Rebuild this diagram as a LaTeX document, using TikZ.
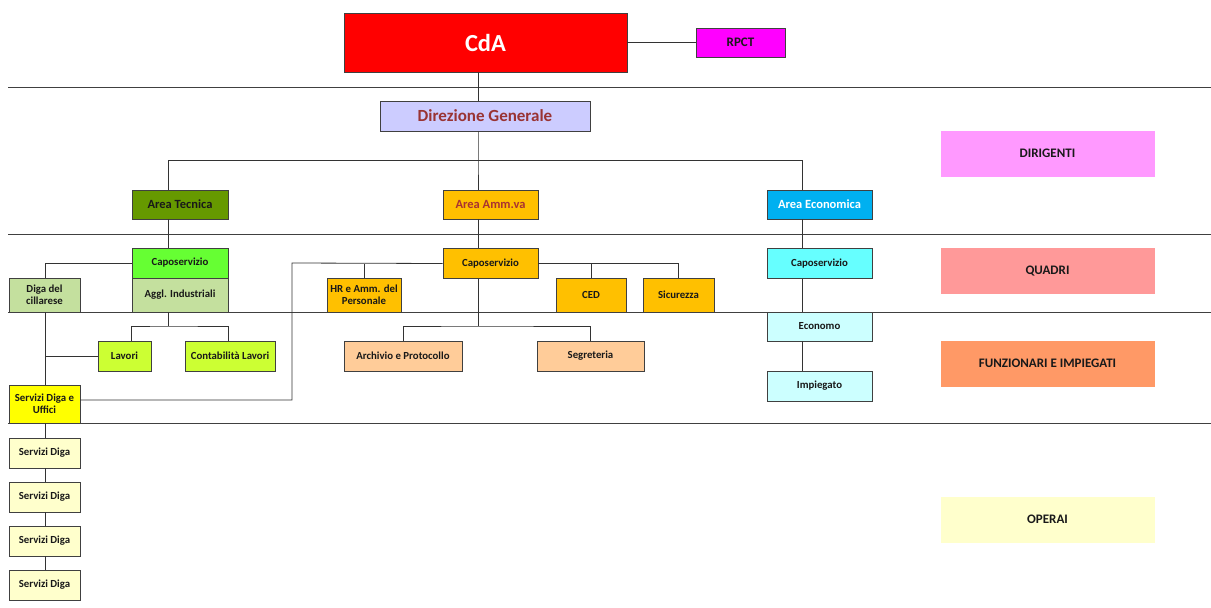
\documentclass[tikz,border=0pt]{standalone}
\usepackage{fontspec}
\setmainfont{Carlito}

\definecolor{cdared}{HTML}{FF0000}
\definecolor{rpctmag}{HTML}{FF00FF}
\definecolor{dglav}{HTML}{CCCCFF}
\definecolor{dgtext}{HTML}{993333}
\definecolor{tecdark}{HTML}{669900}
\definecolor{tecbright}{HTML}{66FF33}
\definecolor{teclight}{HTML}{C4E09E}
\definecolor{teclime}{HTML}{CCFF33}
\definecolor{ammgold}{HTML}{FFC000}
\definecolor{ammtext}{HTML}{A83232}
\definecolor{ammpeach}{HTML}{FFCC99}
\definecolor{ecoblue}{HTML}{00B0F0}
\definecolor{ecocyan}{HTML}{66FFFF}
\definecolor{ecopale}{HTML}{CCFFFF}
\definecolor{digayel}{HTML}{FFFF00}
\definecolor{digapale}{HTML}{FFFFCC}
\definecolor{legdir}{HTML}{FF99FF}
\definecolor{legqua}{HTML}{FF9999}
\definecolor{legfun}{HTML}{FF9966}
\definecolor{legope}{HTML}{FFFFCC}

\begin{document}
\begin{tikzpicture}[
    x=1pt, y=-1pt,
    box/.style={draw=black!75, line width=0.8pt, align=center, inner sep=1pt,
        text=black!90, font=\bfseries\fontsize{10.8}{12}\selectfont},
    sz/.style 2 args={minimum width=#1pt, minimum height=#2pt},
    areabox/.style={box, font=\bfseries\fontsize{12.5}{14}\selectfont},
    tier/.style={fill=#1, draw=#1, inner sep=0pt, minimum width=213pt, minimum height=45pt,
        text=black!90, font=\bfseries\fontsize{13}{15}\selectfont},
    wire/.style={draw=black!80, line width=0.8pt},
    rule/.style={draw=black!75, line width=0.8pt}
]
    \useasboundingbox (0,0) rectangle (1211,608);

    % top
    \node[box, sz={283}{59}, fill=cdared, text=white, font=\bfseries\fontsize{24.5}{27}\selectfont] (CdA) at (485.5,42.5) {CdA};
    \node[box, sz={89}{29}, fill=rpctmag, font=\bfseries\fontsize{13}{15}\selectfont] (RPCT) at (740.5,42.5) {RPCT};
    \node[box, sz={210}{30}, fill=dglav, text=dgtext, font=\bfseries\fontsize{17}{19}\selectfont] (DG) at (485,116) {Direzione Generale};

    % areas
    \node[areabox, sz={96}{29}, fill=tecdark] (AT) at (180,204.5) {Area Tecnica};
    \node[areabox, sz={95}{29}, fill=ammgold, text=ammtext] (AA) at (490.5,204.5) {Area Amm.va};
    \node[areabox, sz={105}{29}, fill=ecoblue, text=white] (AE) at (819.5,204.5) {Area Economica};

    % area tecnica
    \node[box, sz={96}{30}, fill=tecbright] (CT) at (180,263) {Caposervizio};
    \node[box, sz={96}{34}, fill=teclight] (Aggl) at (180,295) {Aggl. Industriali};
    \node[box, sz={71}{34}, fill=teclight] (Diga) at (44.5,295) {Diga del\\cillarese};
    \node[box, sz={53}{30}, fill=teclime] (Lavori) at (124.5,356) {Lavori};
    \node[box, sz={90}{30}, fill=teclime] (Contab) at (230,356) {Contabilità Lavori};
    \node[box, sz={71}{38}, fill=digayel] (SDU) at (44.5,404) {Servizi Diga e\\Uffici};
    \node[box, sz={71}{30}, fill=digapale] (SD1) at (44.5,453) {Servizi Diga};
    \node[box, sz={71}{30}, fill=digapale] (SD2) at (44.5,497) {Servizi Diga};
    \node[box, sz={71}{30}, fill=digapale] (SD3) at (44.5,541) {Servizi Diga};
    \node[box, sz={71}{30}, fill=digapale] (SD4) at (44.5,585) {Servizi Diga};

    % area amm.va
    \node[box, sz={95}{30}, fill=ammgold] (CA) at (490.5,263.5) {Caposervizio};
    \node[box, sz={74}{34}, fill=ammgold] (HR) at (364,295) {HR e Amm. del\\Personale};
    \node[box, sz={70}{34}, fill=ammgold] (CED) at (591,295) {CED};
    \node[box, sz={71}{34}, fill=ammgold] (Sic) at (678.5,295) {Sicurezza};
    \node[box, sz={118}{30}, fill=ammpeach] (Arch) at (403,356) {Archivio e Protocollo};
    \node[box, sz={107}{30}, fill=ammpeach] (Segr) at (590.5,356) {Segreteria};

    % area economica
    \node[box, sz={105}{30}, fill=ecocyan] (CE) at (819.5,263.5) {Caposervizio};
    \node[box, sz={105}{29}, fill=ecopale] (Eco) at (819.5,326.5) {Economo};
    \node[box, sz={105}{30}, fill=ecopale] (Imp) at (819.5,386) {Impiegato};

    % legend
    \node[tier=legdir] (Dir) at (1047.5,153.5) {DIRIGENTI};
    \node[tier=legqua] (Qua) at (1047.5,271) {QUADRI};
    \node[tier=legfun] (Fun) at (1047.5,363.5) {FUNZIONARI E IMPIEGATI};
    \node[tier=legope] (Ope) at (1047.5,519.5) {OPERAI};

    % level rules
    \foreach \y in {87,234,312,423}
        \draw[rule] (8,\y) -- (1211,\y);

    % trunk points
    \coordinate (colT) at (168,160);
    \coordinate (colA) at (478,160);
    \coordinate (colE) at (802,160);
    \coordinate (colD) at (45,263);
    \coordinate (subT) at (168,326);
    \coordinate (subA) at (478,326);
    \coordinate (link) at (292,263);

    % connectors
    \draw[wire] (CdA.east) -- (RPCT.west);
    \draw[wire] (CdA.south -| colA) -- (DG.north -| colA);
    \draw[wire] (DG.south -| colA) -- (colA) -- (AA.north -| colA);
    \draw[wire] (AT.north -| colT) -- (colT) -- (colE) -- (AE.north -| colE);

    \draw[wire] (AT.south -| colT) -- (CT.north -| colT);
    \draw[wire] (CT.west) -- (colD) -- (Diga.north -| colD);
    \draw[wire] (Diga.south -| colD) -- (SDU.north -| colD);
    \draw[wire] (Lavori.west) -- (Lavori.west -| colD);
    \draw[wire] (Aggl.south -| colT) -- (subT);
    \draw[wire] (Lavori.north -| Aggl.west) |- (subT) -| (Contab.north -| Aggl.east);
    \foreach \a/\b in {SDU/SD1, SD1/SD2, SD2/SD3, SD3/SD4}
        \draw[wire] (\a.south -| colD) -- (\b.north -| colD);

    \draw[wire] (AA.south -| colA) -- (CA.north -| colA);
    \draw[wire] ([yshift=4pt]SDU.east) -| (link) -- (CA.west);
    \draw[wire] (HR.north) -- (HR.north |- CA.west);
    \draw[wire] (CA.east) -| (Sic.north);
    \draw[wire] (CED.north) -- (CED.north |- CA.east);
    \draw[wire] (CA.south -| colA) -- (subA);
    \draw[wire] (Arch.north) |- (subA) -| (Segr.north);

    \draw[wire] (AE.south -| colE) -- (CE.north -| colE);
    \draw[wire] (CE.south -| colE) -- (Eco.north -| colE);
    \draw[wire] (Eco.south -| colE) -- (Imp.north -| colE);
\end{tikzpicture}
\end{document}
